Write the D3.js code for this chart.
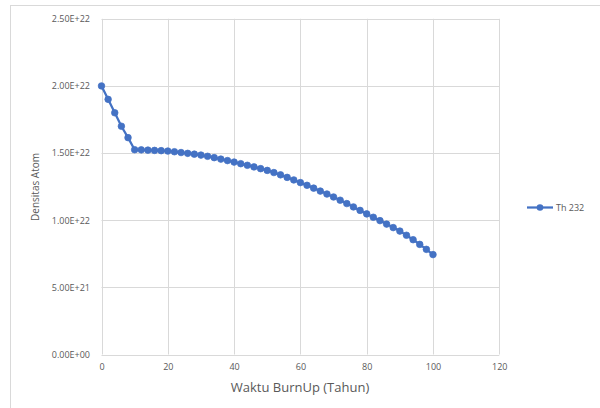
<!DOCTYPE html>
<html>
<head>
<meta charset="utf-8">
<script src="https://cdn.jsdelivr.net/npm/d3@7/dist/d3.min.js"></script>
<style>
  html, body { margin: 0; padding: 0; background: #fff; }
  svg { display: block; }
  text { font-family: "Open Sans", "Noto Sans", sans-serif; fill: #595959; }
</style>
</head>
<body>
<svg id="chart" width="600" height="408"></svg>
<script>
// Data
const years = [0,2,4,6,8,10,12,14,16,18,20,22,24,26,28,30,32,34,36,38,40,42,44,46,48,50,
  52,54,56,58,60,62,64,66,68,70,72,74,76,78,80,82,84,86,88,90,92,94,96,98,100];
const th232 = [2.000,1.900,1.800,1.700,1.615,1.525,1.524,1.522,1.520,1.518,1.515,1.510,1.504,1.498,1.492,
  1.485,1.476,1.466,1.455,1.444,1.433,1.421,1.409,1.397,1.384,1.371,1.355,1.338,1.319,1.300,
  1.280,1.260,1.239,1.217,1.195,1.173,1.149,1.124,1.099,1.073,1.047,1.022,0.997,0.971,0.945,
  0.919,0.888,0.855,0.820,0.783,0.744].map(v => v * 1e22);
const xTicks = [0,20,40,60,80,100,120];
const yTicks = [0,5e21,1e22,1.5e22,2e22,2.5e22];
const yTickLabels = ["0.00E+00","5.00E+21","1.00E+22","1.50E+22","2.00E+22","2.50E+22"];
const seriesName = "Th 232";
const xTitle = "Waktu BurnUp (Tahun)";
const yTitle = "Densitas Atom";

const svg = d3.select("#chart");
const color = "#4472C4";
const grid = "#d9d9d9";

// chart border
svg.append("rect").attr("x", 10.5).attr("y", 5.5).attr("width", 600).attr("height", 410)
  .attr("fill", "none").attr("stroke", grid).attr("stroke-width", 1);

const x = d3.scaleLinear().domain([0, 120]).range([101.5, 499.3]);
const y = d3.scaleLinear().domain([0, 2.5e22]).range([354.5, 18.8]);

// gridlines
svg.append("g").selectAll("line").data(yTicks).join("line")
  .attr("x1", x(0)).attr("x2", x(120))
  .attr("y1", d => Math.round(y(d)) + 0.5).attr("y2", d => Math.round(y(d)) + 0.5)
  .attr("stroke", grid).attr("stroke-width", 1);
svg.append("g").selectAll("line").data(xTicks).join("line")
  .attr("y1", y(0)).attr("y2", y(2.5e22))
  .attr("x1", d => Math.round(x(d)) + 0.5).attr("x2", d => Math.round(x(d)) + 0.5)
  .attr("stroke", grid).attr("stroke-width", 1);

// axes (labels only)
const xAxis = d3.axisBottom(x).tickValues(xTicks).tickSize(0).tickPadding(0).tickFormat(d3.format("d"));
const gx = svg.append("g").attr("transform", `translate(0,${y(0) + 9})`).call(xAxis);
gx.select(".domain").remove();
gx.selectAll("text").style("font-size", "9px").attr("fill", "#595959")
  .style("font-family", '"Open Sans", sans-serif').attr("dy", "0.71em");

const yAxis = d3.axisLeft(y).tickValues(yTicks).tickSize(0).tickPadding(0)
  .tickFormat((d, i) => yTickLabels[i]);
const gy = svg.append("g").attr("transform", `translate(90,0)`).call(yAxis);
gy.select(".domain").remove();
gy.selectAll("text").style("font-size", "9px").attr("fill", "#595959")
  .style("font-family", '"Open Sans", sans-serif');

// titles
svg.append("text").attr("x", 300).attr("y", 392).attr("text-anchor", "middle")
  .style("font-size", "13px").text(xTitle);
svg.append("text").attr("transform", "translate(39,187) rotate(-90)").attr("text-anchor", "middle")
  .style("font-size", "10px").text(yTitle);

// series
const data = years.map((t, i) => ({ t, v: th232[i] }));
const line = d3.line().x(d => x(d.t)).y(d => y(d.v));
svg.append("path").datum(data).attr("d", line)
  .attr("fill", "none").attr("stroke", color).attr("stroke-width", 2.25).attr("stroke-linejoin", "round");
svg.append("g").selectAll("circle").data(data).join("circle")
  .attr("cx", d => x(d.t)).attr("cy", d => y(d.v)).attr("r", 3.3)
  .attr("fill", color).attr("stroke", color).attr("stroke-width", 0.75);

// legend
const lg = svg.append("g").attr("transform", "translate(0,207.5)");
lg.append("line").attr("x1", 527).attr("x2", 553).attr("y1", 0).attr("y2", 0)
  .attr("stroke", color).attr("stroke-width", 2.25);
lg.append("circle").attr("cx", 540).attr("cy", 0).attr("r", 3.3).attr("fill", color);
lg.append("text").attr("x", 556).attr("y", 0).attr("dy", "0.35em")
  .style("font-size", "9px").text(seriesName);
</script>
</body>
</html>
